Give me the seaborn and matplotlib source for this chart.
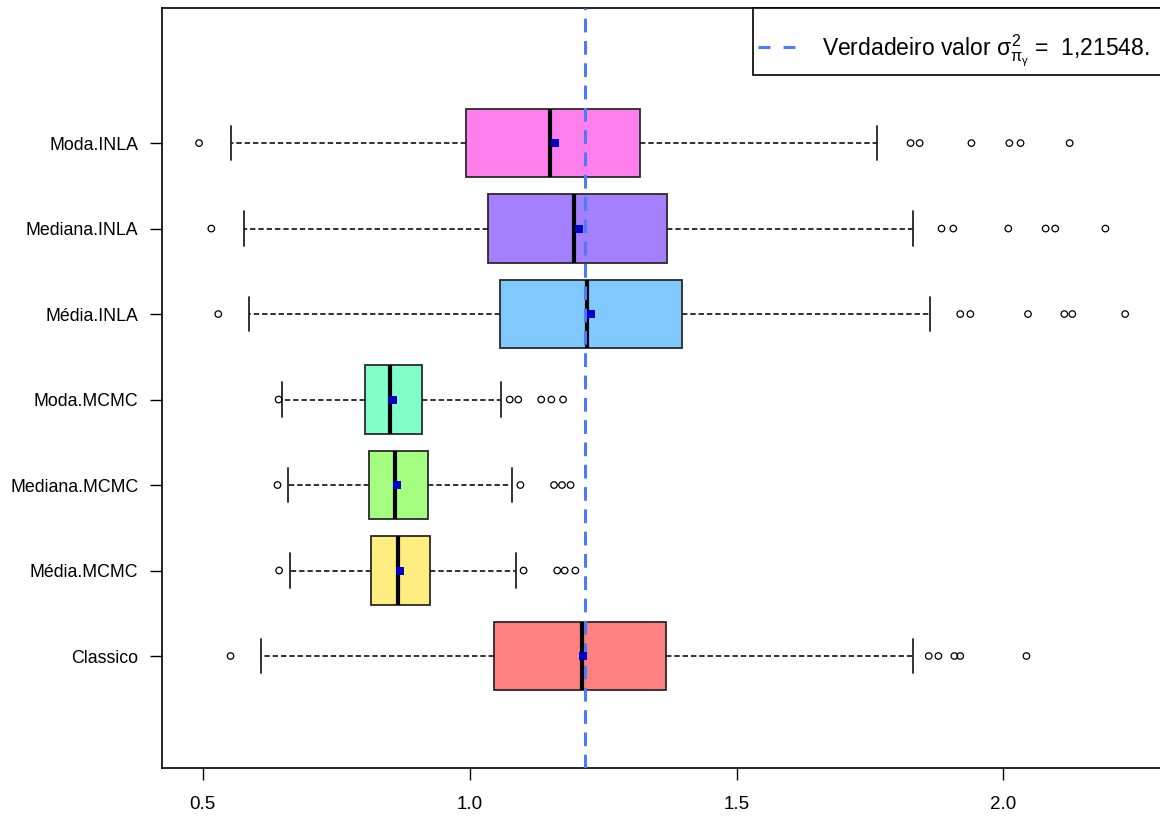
import matplotlib
matplotlib.use("Agg")
import matplotlib.pyplot as plt
import numpy as np
import pandas as pd
import seaborn as sns
from matplotlib.lines import Line2D
from matplotlib.patches import Rectangle

# Estimators, listed from bottom to top of the chart
methods = ["Classico", "Média.MCMC", "Mediana.MCMC", "Moda.MCMC",
           "Média.INLA", "Mediana.INLA", "Moda.INLA"]

# Five-number summaries of each estimator
whisker_low = [0.609, 0.663, 0.660, 0.649, 0.587, 0.577, 0.552]
q1 = [1.045, 0.815, 0.812, 0.803, 1.056, 1.034, 0.993]
median = [1.211, 0.865, 0.860, 0.851, 1.220, 1.195, 1.150]
q3 = [1.367, 0.926, 0.921, 0.910, 1.397, 1.369, 1.320]
whisker_high = [1.830, 1.087, 1.079, 1.059, 1.863, 1.830, 1.763]
means = [1.213, 0.869, 0.864, 0.856, 1.228, 1.204, 1.159]

# Points beyond the whiskers
out_classico = [0.552, 1.860, 1.878, 1.908, 1.919, 2.043]
out_media_mcmc = [0.643, 1.101, 1.164, 1.178, 1.198]
out_mediana_mcmc = [0.640, 1.095, 1.158, 1.173, 1.189]
out_moda_mcmc = [0.642, 1.075, 1.091, 1.134, 1.153, 1.175]
out_media_inla = [0.529, 1.919, 1.938, 2.046, 2.114, 2.129, 2.228]
out_mediana_inla = [0.516, 1.884, 1.906, 2.009, 2.079, 2.097, 2.191]
out_moda_inla = [0.493, 1.826, 1.843, 1.940, 2.011, 2.032, 2.124]

box_colors = ["#FF8080", "#FFED80", "#A4FF80", "#80FFC9",
              "#80C9FF", "#A480FF", "#FF80ED"]

true_value = 1.21548
xticks = [0.5, 1.0, 1.5, 2.0]
xtick_labels = ["0.5", "1.0", "1.5", "2.0"]

sns.set_theme(style="white")
plt.rcParams["font.family"] = ["Liberation Sans", "DejaVu Sans"]
plt.rcParams["mathtext.fontset"] = "custom"
plt.rcParams["mathtext.rm"] = "Liberation Sans"
plt.rcParams["mathtext.it"] = "Liberation Sans"
plt.rcParams["mathtext.bf"] = "Liberation Sans:bold"
for key in ["text.color", "axes.labelcolor", "xtick.color", "ytick.color",
            "axes.edgecolor"]:
    plt.rcParams[key] = "black"

fig = plt.figure(figsize=(11.6, 8.18), dpi=100)
ax = fig.add_axes([162 / 1160, 50 / 818, 1000 / 1160, 760 / 818])

positions = np.arange(1, len(methods) + 1)
outliers = [out_classico, out_media_mcmc, out_mediana_mcmc, out_moda_mcmc,
            out_media_inla, out_mediana_inla, out_moda_inla]

stats = []
for i, name in enumerate(methods):
    stats.append(dict(label=name, whislo=whisker_low[i], q1=q1[i], med=median[i],
                      q3=q3[i], whishi=whisker_high[i], mean=means[i], fliers=[]))

dash_whisker = (0, (3.0, 1.6))
bp = ax.bxp(stats, positions=positions, widths=0.8, orientation="horizontal",
            patch_artist=True, showfliers=False, showmeans=False, capwidths=0.4,
            boxprops=dict(edgecolor="#2a2a2a", linewidth=1.3),
            medianprops=dict(color="black", linewidth=3.0, solid_capstyle="butt"),
            whiskerprops=dict(color="#222222", linewidth=1.3, linestyle=dash_whisker),
            capprops=dict(color="#222222", linewidth=1.3))
for patch, c in zip(bp["boxes"], box_colors):
    patch.set_facecolor(c)

# True parameter value
line_color = "#4A7BFF"
line_dash = (0, (4.5, 2.8))
ax.axvline(true_value, color=line_color, lw=2.2, ls=line_dash, zorder=4)

# Outlying points as open circles
out_df = pd.DataFrame({
    "valor": [v for vals in outliers for v in vals],
    "pos": [p for p, vals in zip(positions, outliers) for _ in vals],
})
sns.scatterplot(data=out_df, x="valor", y="pos", ax=ax, marker="o", s=22,
                facecolors="none", edgecolor="black", linewidth=0.9, zorder=5)

# Means as small blue squares
mean_df = pd.DataFrame({"valor": means, "pos": positions})
sns.scatterplot(data=mean_df, x="valor", y="pos", ax=ax, marker="s", s=34,
                color="#0000CD", linewidth=0, zorder=6)

ax.set_xlim(0.4236, 2.297)
ax.set_ylim(-0.31, 8.58)
ax.set_xticks(xticks)
ax.set_xticklabels(xtick_labels)
ax.set_yticks(positions)
ax.set_yticklabels(methods)
ax.set_xlabel("")
ax.set_ylabel("")
ax.tick_params(axis="x", length=8.6, width=1.0, color="black", pad=11.5,
               labelsize=13.5, labelcolor="black", direction="out", bottom=True)
ax.tick_params(axis="y", length=8.6, width=1.0, color="black", pad=8.5,
               labelsize=12.8, labelcolor="black", direction="out", left=True)
for sp in ax.spines.values():
    sp.set_color("black")
    sp.set_linewidth(1.2)

# Legend box in the top-right corner, with the entry placed inside it
ax.add_patch(Rectangle((0.591, 0.9118), 0.42, 0.0882, transform=ax.transAxes,
                       facecolor="white", edgecolor="black", linewidth=1.2,
                       zorder=7, clip_on=False))
handle = Line2D([], [], color=line_color, lw=2.2, ls=(0, (3.9, 4.3)))
label = r"Verdadeiro valor $\sigma_{\pi_{\gamma}}^{2}$ =  1,21548."
leg = ax.legend([handle], [label], loc="center left",
                bbox_to_anchor=(0.596, 0.9447), borderaxespad=0, borderpad=0,
                frameon=False, fontsize=16.5, handlelength=1.61,
                handletextpad=1.18)
leg.set_zorder(8)

fig.savefig("out.png", dpi=100)
